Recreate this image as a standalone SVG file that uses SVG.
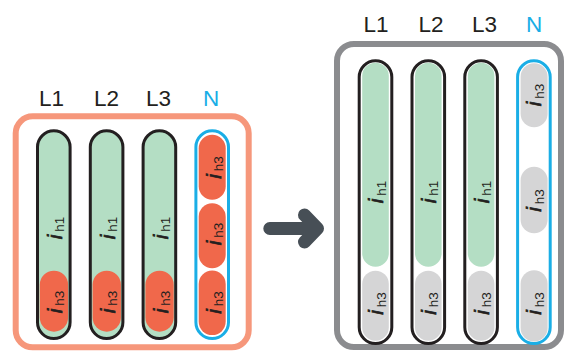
<svg xmlns="http://www.w3.org/2000/svg" width="564" height="353" viewBox="0 0 564 353">
<defs>
<style>
.lbl{font-family:"Liberation Sans",Arial,sans-serif;font-size:22.5px;text-anchor:middle;fill:#231f20}
.lblN{fill:#1aaee6}
.frameL{fill:#fff;stroke:#f6977b;stroke-width:6}
.frameR{fill:#fff;stroke:#8b8c8f;stroke-width:6}
.pill{fill:#b4dec4;stroke:#231f20;stroke-width:3}
.pillW{fill:#fff;stroke:#231f20;stroke-width:3}
.pillN{fill:#fff;stroke:#1aaee6;stroke-width:3}
.or{fill:#f0684b}
.gr{fill:#b4dec4}
.gy{fill:#d5d5d6}
.t{font-family:"Liberation Sans",Arial,sans-serif;text-anchor:middle;fill:#231f20}
.ti{font-size:21px;font-style:italic;stroke:#231f20;stroke-width:0.7}
.ts{font-size:13.5px;font-style:normal;stroke:none}
.arrow{fill:none;stroke:#474f56;stroke-width:13;stroke-linecap:round;stroke-linejoin:round}
</style>
</defs>

<!-- Left panel -->
<g id="frame-left">
<rect class="frameL" x="15.7" y="116.3" width="233" height="231" rx="17"/>
</g>
<g id="labels-left">
<text class="lbl" x="51.5" y="106">L1</text>
<text class="lbl" x="106.5" y="106">L2</text>
<text class="lbl" x="158.5" y="106">L3</text>
<text class="lbl lblN" x="211" y="106">N</text>
</g>

<g id="left-L1">
<rect class="pill" x="37.5" y="130.8" width="32.6" height="207.7" rx="16.3"/>
<rect class="or" x="39.8" y="270.7" width="28.3" height="61" rx="14.1"/>
<text class="t" transform="translate(53.8,228) rotate(-90)" y="8.5"><tspan class="ti">i</tspan><tspan class="ts" dx="3" dy="2">h1</tspan></text>
<text class="t" transform="translate(53.8,302) rotate(-90)" y="8.5"><tspan class="ti">i</tspan><tspan class="ts" dx="3" dy="2">h3</tspan></text>
</g>
<g id="left-L2">
<rect class="pill" x="90.3" y="130.8" width="32.6" height="207.7" rx="16.3"/>
<rect class="or" x="92.6" y="270.7" width="28.3" height="61" rx="14.1"/>
<text class="t" transform="translate(106.6,228) rotate(-90)" y="8.5"><tspan class="ti">i</tspan><tspan class="ts" dx="3" dy="2">h1</tspan></text>
<text class="t" transform="translate(106.6,302) rotate(-90)" y="8.5"><tspan class="ti">i</tspan><tspan class="ts" dx="3" dy="2">h3</tspan></text>
</g>
<g id="left-L3">
<rect class="pill" x="143.1" y="130.8" width="32.6" height="207.7" rx="16.3"/>
<rect class="or" x="145.4" y="270.7" width="28.3" height="61" rx="14.1"/>
<text class="t" transform="translate(159.4,228) rotate(-90)" y="8.5"><tspan class="ti">i</tspan><tspan class="ts" dx="3" dy="2">h1</tspan></text>
<text class="t" transform="translate(159.4,302) rotate(-90)" y="8.5"><tspan class="ti">i</tspan><tspan class="ts" dx="3" dy="2">h3</tspan></text>
</g>
<g id="left-N">
<rect class="pillN" x="195.9" y="130.8" width="32.6" height="207.7" rx="16.3"/>
<rect class="or" x="198.7" y="134.8" width="27" height="65" rx="13.5"/>
<rect class="or" x="198.7" y="203.2" width="27" height="65" rx="13.5"/>
<rect class="or" x="198.7" y="270.6" width="27" height="64.5" rx="13.5"/>
<text class="t" transform="translate(212.2,167.5) rotate(-90)" y="8.5"><tspan class="ti">i</tspan><tspan class="ts" dx="3" dy="2">h3</tspan></text>
<text class="t" transform="translate(212.2,234) rotate(-90)" y="8.5"><tspan class="ti">i</tspan><tspan class="ts" dx="3" dy="2">h3</tspan></text>
<text class="t" transform="translate(212.2,302.5) rotate(-90)" y="8.5"><tspan class="ti">i</tspan><tspan class="ts" dx="3" dy="2">h3</tspan></text>
</g>

<!-- Connector -->
<g id="connectors">
<path class="arrow" d="M269.8 228.5 H316 M304.5 215 L317.5 228.5 L304.5 242"/>
</g>

<!-- Right panel -->
<g id="frame-right">
<rect class="frameR" x="337" y="44" width="224" height="303" rx="17"/>
</g>
<g id="labels-right">
<text class="lbl" x="376" y="31.5">L1</text>
<text class="lbl" x="431" y="31.5">L2</text>
<text class="lbl" x="484.5" y="31.5">L3</text>
<text class="lbl lblN" x="534" y="31.5">N</text>
</g>

<g id="right-L1">
<rect class="pillW" x="359.2" y="60.8" width="32.6" height="282.7" rx="16.3"/>
<rect class="gr" x="362.2" y="62.7" width="26.6" height="204" rx="13.3"/>
<rect class="gy" x="362.2" y="270.7" width="26.6" height="70" rx="13.3"/>
<text class="t" transform="translate(375.5,192) rotate(-90)" y="7.5"><tspan class="ti">i</tspan><tspan class="ts" dx="3" dy="2.5">h1</tspan></text>
<text class="t" transform="translate(375.5,303.5) rotate(-90)" y="7.5"><tspan class="ti">i</tspan><tspan class="ts" dx="3" dy="2.5">h3</tspan></text>
</g>
<g id="right-L2">
<rect class="pillW" x="412" y="60.8" width="32.6" height="282.7" rx="16.3"/>
<rect class="gr" x="415" y="62.7" width="26.6" height="204" rx="13.3"/>
<rect class="gy" x="415" y="270.7" width="26.6" height="70" rx="13.3"/>
<text class="t" transform="translate(428.3,192) rotate(-90)" y="7.5"><tspan class="ti">i</tspan><tspan class="ts" dx="3" dy="2.5">h1</tspan></text>
<text class="t" transform="translate(428.3,303.5) rotate(-90)" y="7.5"><tspan class="ti">i</tspan><tspan class="ts" dx="3" dy="2.5">h3</tspan></text>
</g>
<g id="right-L3">
<rect class="pillW" x="464.8" y="60.8" width="32.6" height="282.7" rx="16.3"/>
<rect class="gr" x="467.8" y="62.7" width="26.6" height="204" rx="13.3"/>
<rect class="gy" x="467.8" y="270.7" width="26.6" height="70" rx="13.3"/>
<text class="t" transform="translate(481.1,192) rotate(-90)" y="7.5"><tspan class="ti">i</tspan><tspan class="ts" dx="3" dy="2.5">h1</tspan></text>
<text class="t" transform="translate(481.1,303.5) rotate(-90)" y="7.5"><tspan class="ti">i</tspan><tspan class="ts" dx="3" dy="2.5">h3</tspan></text>
</g>
<g id="right-N">
<rect class="pillN" x="517.6" y="60.8" width="32.6" height="282.7" rx="16.3"/>
<rect class="gy" x="520.6" y="63.3" width="27" height="64" rx="13.5"/>
<rect class="gy" x="520.6" y="166.7" width="27" height="66.6" rx="13.5"/>
<rect class="gy" x="520.6" y="270.2" width="27" height="71.3" rx="13.5"/>
<text class="t" transform="translate(533.9,95) rotate(-90)" y="7.5"><tspan class="ti">i</tspan><tspan class="ts" dx="3" dy="2.5">h3</tspan></text>
<text class="t" transform="translate(533.9,200.5) rotate(-90)" y="7.5"><tspan class="ti">i</tspan><tspan class="ts" dx="3" dy="2.5">h3</tspan></text>
<text class="t" transform="translate(533.9,303.5) rotate(-90)" y="7.5"><tspan class="ti">i</tspan><tspan class="ts" dx="3" dy="2.5">h3</tspan></text>
</g>
</svg>
